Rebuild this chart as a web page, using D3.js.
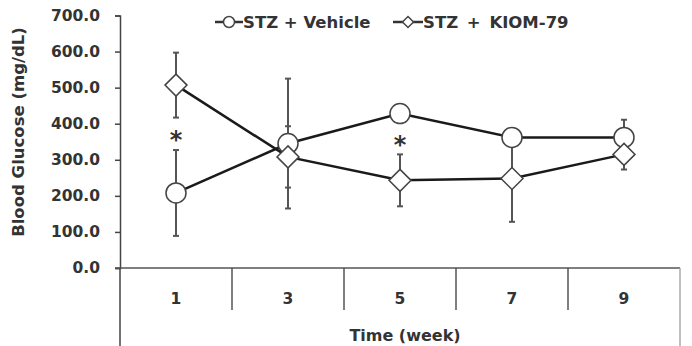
<!DOCTYPE html>
<html>
<head>
<meta charset="utf-8">
<script src="https://cdn.jsdelivr.net/npm/d3@7"></script>
<style>
  body { margin: 0; background: #fff; }
  svg text { font-family: "DejaVu Sans", sans-serif; font-weight: bold; fill: #333; }
</style>
</head>
<body>
<div id="chart"></div>
<script>
const weeks = ["1", "3", "5", "7", "9"];
const vehicleMean = [208, 345, 428, 362, 362];
const vehicleErr = [119, 180, 20, 20, 49];
const kiomMean = [507, 308, 243, 248, 315];
const kiomErr = [90, 85, 72, 120, 42];
const yTicks = [0, 100, 200, 300, 400, 500, 600, 700];
const starWeeks = ["1", "5"];
const starValues = [368, 354];

const W = 692, H = 346;
const margin = { top: 15.5, right: 12, bottom: 78, left: 120 },
      width = W - margin.left - margin.right,
      height = H - margin.top - margin.bottom;

const svg = d3.select("#chart").append("svg")
    .attr("width", W)
    .attr("height", H);

const g = svg.append("g")
    .attr("transform", `translate(${margin.left},${margin.top})`);

const x = d3.scaleBand().domain(weeks).range([0, width]);
const y = d3.scaleLinear().domain([0, 700]).range([height, 0]);
const cx = d => x(d) + x.bandwidth() / 2;

// y axis
const yAxis = g.append("g")
    .call(d3.axisLeft(y).tickValues(yTicks).tickFormat(d3.format(".1f")).tickSize(5).tickSizeOuter(5));
yAxis.select(".domain").attr("stroke", "#444").attr("stroke-width", 1.5);
yAxis.selectAll(".tick line").attr("stroke", "#444").attr("stroke-width", 1.5);
yAxis.selectAll(".tick text")
    .attr("x", -20)
    .style("font-size", "15.5px")
    .style("font-family", "'DejaVu Sans', sans-serif")
    .style("font-weight", "bold")
    .attr("fill", "#333");

// category table below the plot
const tableBottom = H - margin.top;
g.append("line")
    .attr("x1", -5).attr("x2", width)
    .attr("y1", height).attr("y2", height)
    .attr("stroke", "#555").attr("stroke-width", 1.5);
g.append("line")
    .attr("x1", 0).attr("x2", 0)
    .attr("y1", height).attr("y2", tableBottom + 2)
    .attr("stroke", "#444").attr("stroke-width", 1.5);
g.append("line")
    .attr("x1", width).attr("x2", width)
    .attr("y1", height).attr("y2", tableBottom + 2)
    .attr("stroke", "#aaa").attr("stroke-width", 1.5);
g.selectAll(".sep")
    .data(weeks.slice(1))
    .enter()
    .append("line")
    .attr("class", "sep")
    .attr("x1", d => x(d)).attr("x2", d => x(d))
    .attr("y1", height).attr("y2", height + 42)
    .attr("stroke", "#555").attr("stroke-width", 1.5);
g.selectAll(".wk")
    .data(weeks)
    .enter()
    .append("text")
    .attr("class", "wk")
    .attr("x", cx)
    .attr("y", height + 36)
    .attr("text-anchor", "middle")
    .style("font-size", "15.5px")
    .text(d => d);
g.append("text")
    .attr("x", width / 2 + 5)
    .attr("y", H - margin.top - 5)
    .attr("text-anchor", "middle")
    .style("font-size", "16px")
    .text("Time (week)");

// y label
svg.append("text")
    .attr("transform", `translate(24,132) rotate(-90)`)
    .attr("text-anchor", "middle")
    .style("font-size", "16.5px")
    .text("Blood Glucose (mg/dL)");

const series = [
    { name: "STZ + Vehicle", mean: vehicleMean, err: vehicleErr, shape: "circle" },
    { name: "STZ + KIOM-79", mean: kiomMean, err: kiomErr, shape: "diamond" }
];

// error bars
series.forEach(s => {
    const eb = g.append("g");
    weeks.forEach((w, i) => {
        const top = y(s.mean[i] + s.err[i]), bot = y(s.mean[i] - s.err[i]);
        eb.append("line")
            .attr("x1", cx(w)).attr("x2", cx(w))
            .attr("y1", top).attr("y2", bot)
            .attr("stroke", "#555").attr("stroke-width", 2);
        [top, bot].forEach(v => eb.append("line")
            .attr("x1", cx(w) - 3).attr("x2", cx(w) + 3)
            .attr("y1", v).attr("y2", v)
            .attr("stroke", "#555").attr("stroke-width", 2));
    });
});

// lines
const line = d3.line().x((d, i) => cx(weeks[i])).y(d => y(d));
series.forEach(s => {
    g.append("path")
        .datum(s.mean)
        .attr("fill", "none")
        .attr("stroke", "#1a1a1a")
        .attr("stroke-width", 2.5)
        .attr("d", line);
});

const drawMarker = (sel, shape, px, py, r) => {
    if (shape === "circle") {
        sel.append("circle")
            .attr("cx", px).attr("cy", py).attr("r", r)
            .attr("fill", "#fff").attr("stroke", "#444").attr("stroke-width", 1.5);
    } else {
        sel.append("path")
            .attr("d", `M${px},${py - r}L${px + r},${py}L${px},${py + r}L${px - r},${py}Z`)
            .attr("fill", "#fff").attr("stroke", "#444").attr("stroke-width", 1.5);
    }
};

series.forEach(s => {
    weeks.forEach((w, i) => drawMarker(g, s.shape, cx(w), y(s.mean[i]), s.shape === "circle" ? 10 : 11));
});

// significance marks
g.selectAll(".star")
    .data(starWeeks)
    .enter()
    .append("text")
    .attr("class", "star")
    .attr("x", d => cx(d))
    .attr("y", (d, i) => y(starValues[i]) + 13)
    .attr("text-anchor", "middle")
    .style("font-size", "24px")
    .text("*");

// legend
const legendItems = [
    { shape: "circle", x0: 215, x1: 243, tx: 243 },
    { shape: "diamond", x0: 393, x1: 423, tx: 423 }
];
legendItems.forEach((l, i) => {
    svg.append("line")
        .attr("x1", l.x0).attr("x2", l.x1)
        .attr("y1", 22).attr("y2", 22)
        .attr("stroke", "#333").attr("stroke-width", 2.5);
    drawMarker(svg, l.shape, (l.x0 + l.x1) / 2, 22, 5.5);
    svg.append("text")
        .attr("x", l.tx)
        .attr("y", 28)
        .style("font-size", "16.5px")
        .style("word-spacing", i === 1 ? "3px" : "0px")
        .text(series[i].name);
});
</script>
</body>
</html>
